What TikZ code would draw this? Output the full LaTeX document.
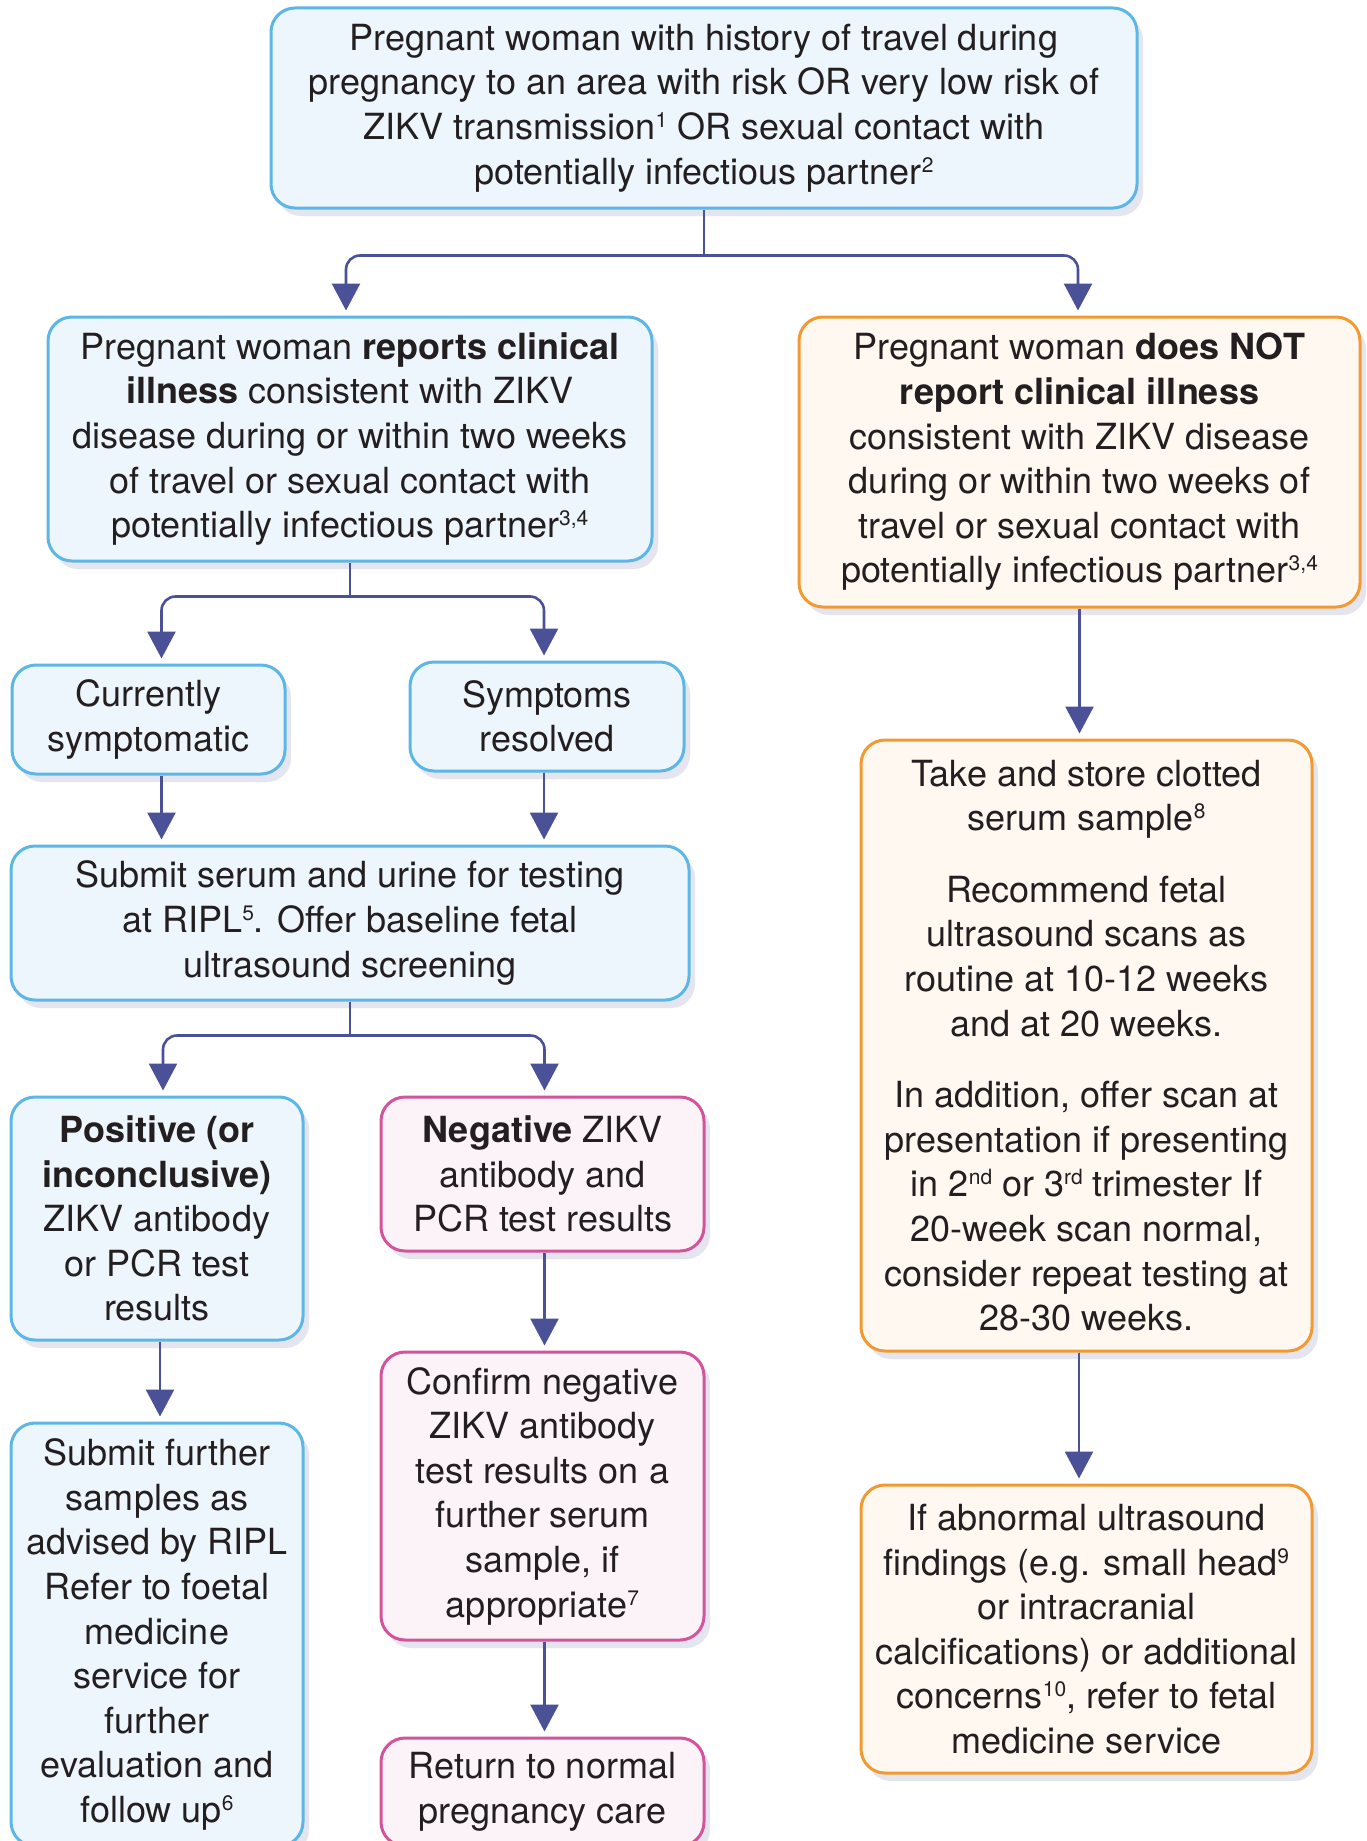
\documentclass[tikz,border=0pt]{standalone}
\usepackage{fontspec}
\setmainfont{TeX Gyre Heros}
\usetikzlibrary{arrows.meta,shadows,calc}
\definecolor{bbord}{HTML}{5DB7E6}
\definecolor{bfill}{HTML}{EEF6FD}
\definecolor{obord}{HTML}{F29A32}
\definecolor{ofill}{HTML}{FEF8F1}
\definecolor{pbord}{HTML}{D4549B}
\definecolor{pfill}{HTML}{FCF3F8}
\definecolor{arrc}{HTML}{4B5197}
\definecolor{txt}{HTML}{231F20}
\newcommand{\sups}[1]{\raisebox{12pt}{\fontsize{21}{21}\selectfont #1}}
\begin{document}
\begin{tikzpicture}[x=1pt,y=-1pt,
 box/.style={rounded corners=24pt, line width=3pt, align=center, text=txt,
   font=\fontsize{36}{44.6}\selectfont, inner sep=0pt,
   drop shadow={shadow xshift=6pt, shadow yshift=-8pt, opacity=0.15, fill=arrc}},
 wh/.style 2 args={minimum width=#1pt, minimum height=#2pt},
 bluebox/.style={box, draw=bbord, fill=bfill},
 orangebox/.style={box, draw=obord, fill=ofill},
 pinkbox/.style={box, draw=pbord, fill=pfill},
 conn/.style={draw=arrc, line width=2.6pt, rounded corners=14pt},
 arr/.style={conn, -{Triangle[width=28pt,length=27pt]}, shorten >=5pt}
]
\fill[white] (0,0) rectangle (1366,1841);
\useasboundingbox (0,0) rectangle (1366,1841);

\node[bluebox, wh={866}{200}] (top) at (704,108) {Pregnant woman with history of travel during\\ pregnancy to an area with risk OR very low risk of\\ ZIKV transmission\sups{1} OR sexual contact with\\ potentially infectious partner\sups{2}};
\node[bluebox, wh={604}{244}] (A) at (350,439) {Pregnant woman \textbf{reports clinical}\\ \textbf{illness} consistent with ZIKV\\ disease during or within two weeks\\ of travel or sexual contact with\\ potentially infectious partner\sups{3,4}};
\node[orangebox, wh={561}{290}] (B) at (1079.5,462) {Pregnant woman \textbf{does NOT}\\ \textbf{report clinical illness}\\ consistent with ZIKV disease\\ during or within two weeks of\\ travel or sexual contact with\\ potentially infectious partner\sups{3,4}};
\node[bluebox, wh={273}{109}] (CS) at (148.5,719.5) {Currently\\ symptomatic};
\node[bluebox, wh={274}{109}] (SR) at (547,716.5) {Symptoms\\ resolved};
\node[bluebox, wh={678}{154}] (Sub) at (350,923) {Submit serum and urine for testing\\ at RIPL\sups{5}. Offer baseline fetal\\ ultrasound screening};
\node[bluebox, wh={292}{243}] (Pos) at (157,1218.5) {\textbf{Positive (or}\\ \textbf{inconclusive)}\\ ZIKV antibody\\ or PCR test\\ results};
\node[pinkbox, wh={323}{154}] (Neg) at (542.5,1174) {\textbf{Negative} ZIKV\\ antibody and\\ PCR test results};
\node[bluebox, wh={292}{423}] (SubF) at (157,1634.5) {Submit further\\ samples as\\ advised by RIPL\\ Refer to foetal\\ medicine\\ service for\\ further\\ evaluation and\\ follow up\sups{6}};
\node[pinkbox, wh={323}{288}] (Conf) at (542.5,1496) {Confirm negative\\ ZIKV antibody\\ test results on a\\ further serum\\ sample, if\\ appropriate\sups{7}};
\node[pinkbox, wh={323}{108}] (Ret) at (542.5,1792) {Return to normal\\ pregnancy care};
\node[orangebox, wh={451}{611}] (Take) at (1086.5,1045.5) {Take and store clotted\\ serum sample\sups{8}\\[27pt] Recommend fetal\\ ultrasound scans as\\ routine at 10-12 weeks\\ and at 20 weeks.\\[27pt] In addition, offer scan at\\ presentation if presenting\\ in 2\sups{nd} or 3\sups{rd} trimester If\\ 20-week scan normal,\\ consider repeat testing at\\ 28-30 weeks.};
\node[orangebox, wh={451}{288}] (Abn) at (1086.5,1629) {If abnormal ultrasound\\ findings (e.g. small head\sups{9}\\ or intracranial\\ calcifications) or additional\\ concerns\sups{10}, refer to fetal\\ medicine service};

\coordinate (j1) at ($(top.south)+(0,46)$);
\draw[conn] (top.south) -- (j1);
\draw[arr] (j1) -| ([xshift=-4pt]A.north);
\draw[arr] (j1) -| ([xshift=-1.5pt]B.north);

\coordinate (j2) at ($(A.south)+(0,34)$);
\draw[conn] (A.south) -- (j2);
\draw[arr] (j2) -| ([xshift=13pt]CS.north);
\draw[arr] (j2) -| ([xshift=-3pt]SR.north);
\draw[arr] ([xshift=13pt]CS.south) -- ([xshift=13pt]CS.south |- Sub.north);
\draw[arr] ([xshift=-3pt]SR.south) -- ([xshift=-3pt]SR.south |- Sub.north);

\coordinate (j3) at ($(Sub.south)+(0,34)$);
\draw[conn] (Sub.south) -- (j3);
\draw[arr] (j3) -| ([xshift=6pt]Pos.north);
\draw[arr] (j3) -| ([xshift=2pt]Neg.north);
\draw[arr] ([xshift=3pt]Pos.south) -- ([xshift=3pt]Pos.south |- SubF.north);
\draw[arr] ([xshift=2pt]Neg.south) -- ([xshift=2pt]Neg.south |- Conf.north);
\draw[arr] ([xshift=2pt]Conf.south) -- ([xshift=2pt]Conf.south |- Ret.north);

\draw[arr] (B.south) -- (B.south |- Take.north);
\draw[arr] ([xshift=-7.5pt]Take.south) -- ([xshift=-7.5pt]Take.south |- Abn.north);
\end{tikzpicture}
\end{document}
